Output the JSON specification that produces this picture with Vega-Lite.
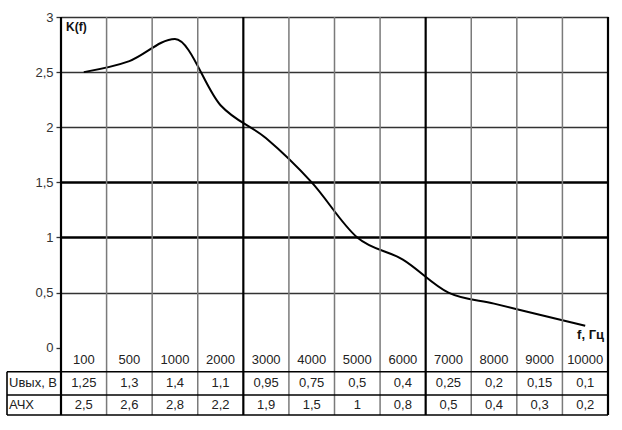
{
  "$schema": "https://vega.github.io/schema/vega-lite/v6.json",
  "padding": {"left": 6, "top": 11, "right": 15, "bottom": 16},
  "spacing": 0,
  "bounds": "flush",
  "config": {
    "view": {"stroke": null},
    "font": "Liberation Sans",
    "locale": {"number": {"decimal": ",", "thousands": " ", "grouping": [3], "currency": ["", ""]}},
    "text": {"font": "Liberation Sans", "fontSize": 13, "color": "#222"}
  },
  "resolve": {"scale": {"x": "independent", "y": "independent"}},
  "datasets": {
    "afc": [
      {"f": 100, "u": 1.25, "k": 2.5},
      {"f": 500, "u": 1.3, "k": 2.6},
      {"f": 1000, "u": 1.4, "k": 2.8},
      {"f": 2000, "u": 1.1, "k": 2.2},
      {"f": 3000, "u": 0.95, "k": 1.9},
      {"f": 4000, "u": 0.75, "k": 1.5},
      {"f": 5000, "u": 0.5, "k": 1},
      {"f": 6000, "u": 0.4, "k": 0.8},
      {"f": 7000, "u": 0.25, "k": 0.5},
      {"f": 8000, "u": 0.2, "k": 0.4},
      {"f": 9000, "u": 0.15, "k": 0.3},
      {"f": 10000, "u": 0.1, "k": 0.2}
    ]
  },
  "hconcat": [
    {
      "width": 54,
      "height": 398,
      "data": {"values": [{}]},
      "layer": [
        {
          "mark": {"type": "text", "text": "Uвых, В", "align": "left", "baseline": "middle"},
          "encoding": {
            "x": {"datum": 2, "type": "quantitative", "scale": {"domain": [0, 54], "nice": false, "zero": false}, "axis": null},
            "y": {
              "datum": -0.32, "type": "quantitative",
              "scale": {"domain": [-0.61, 3], "nice": false, "zero": false},
              "axis": {
                "orient": "left", "offset": -54, "values": [0, 0.5, 1, 1.5, 2, 2.5, 3],
                "format": "~g", "domain": false, "grid": false, "ticks": true, "tickSize": 5,
                "tickColor": "#333", "tickWidth": 1.3, "labelFontSize": 13, "labelColor": "#333",
                "labelPadding": 3, "labelFont": "Liberation Sans", "title": null
              }
            }
          }
        },
        {
          "mark": {"type": "text", "text": "АЧХ", "align": "left", "baseline": "middle"},
          "encoding": {
            "x": {"datum": 2, "type": "quantitative"},
            "y": {"datum": -0.515, "type": "quantitative"}
          }
        },
        {"mark": {"type": "rule", "color": "#000", "strokeWidth": 1.6}, "encoding": {"y": {"datum": -0.218, "type": "quantitative"}}},
        {"mark": {"type": "rule", "color": "#000", "strokeWidth": 1.6}, "encoding": {"y": {"datum": -0.429, "type": "quantitative"}}},
        {"mark": {"type": "rule", "color": "#000", "strokeWidth": 1.6}, "encoding": {"y": {"datum": -0.61, "type": "quantitative"}}},
        {
          "mark": {"type": "rule", "color": "#000", "strokeWidth": 1.6},
          "encoding": {
            "x": {"datum": 0, "type": "quantitative"},
            "y": {"datum": -0.218, "type": "quantitative"},
            "y2": {"datum": -0.61}
          }
        }
      ]
    },
    {
      "width": 547,
      "height": 398,
      "data": {"name": "afc"},
      "layer": [
        {
          "mark": {"type": "line", "color": "#000", "strokeWidth": 2, "interpolate": "monotone"},
          "encoding": {
            "x": {"field": "f", "type": "ordinal", "scale": {"paddingInner": 0, "paddingOuter": 0}, "axis": null},
            "y": {
              "field": "k", "type": "quantitative",
              "scale": {"domain": [-0.61, 3], "nice": false, "zero": false},
              "axis": {
                "values": [0.5, 1, 1.5, 2, 2.5, 3], "labels": false, "ticks": false, "domain": false,
                "title": null, "grid": true, "gridOpacity": 1,
                "gridColor": {"condition": {"test": "datum.value === 1 || datum.value === 1.5", "value": "#000"}, "value": "#333"},
                "gridWidth": {"condition": {"test": "datum.value === 1 || datum.value === 1.5", "value": 2.4}, "value": 1.4}
              }
            }
          }
        },
        {
          "mark": {"type": "rule"},
          "encoding": {
            "x": {"field": "f", "type": "ordinal", "bandPosition": 0},
            "color": {"condition": {"test": "datum.f === 100 || datum.f === 3000 || datum.f === 7000", "value": "#000"}, "value": "#7a7a7a"},
            "strokeWidth": {"condition": {"test": "datum.f === 100 || datum.f === 3000 || datum.f === 7000", "value": 2.2}, "value": 1.5}
          }
        },
        {
          "transform": [{"filter": "datum.f === 10000"}],
          "mark": {"type": "rule", "color": "#000", "strokeWidth": 2.2},
          "encoding": {"x": {"field": "f", "type": "ordinal", "bandPosition": 1}}
        },
        {
          "data": {"values": [{}]},
          "mark": {"type": "rule", "color": "#000", "strokeWidth": 1.6},
          "encoding": {"y": {"datum": -0.218, "type": "quantitative"}}
        },
        {
          "data": {"values": [{}]},
          "mark": {"type": "rule", "color": "#000", "strokeWidth": 1.6},
          "encoding": {"y": {"datum": -0.429, "type": "quantitative"}}
        },
        {
          "data": {"values": [{}]},
          "mark": {"type": "rule", "color": "#000", "strokeWidth": 1.6},
          "encoding": {"y": {"datum": -0.61, "type": "quantitative"}}
        },
        {
          "mark": {"type": "text", "baseline": "middle"},
          "encoding": {
            "x": {"field": "f", "type": "ordinal"},
            "y": {"datum": -0.11, "type": "quantitative"},
            "text": {"field": "f", "type": "nominal"}
          }
        },
        {
          "mark": {"type": "text", "baseline": "middle"},
          "encoding": {
            "x": {"field": "f", "type": "ordinal"},
            "y": {"datum": -0.32, "type": "quantitative"},
            "text": {"field": "u", "type": "quantitative", "format": "~g"}
          }
        },
        {
          "mark": {"type": "text", "baseline": "middle"},
          "encoding": {
            "x": {"field": "f", "type": "ordinal"},
            "y": {"datum": -0.515, "type": "quantitative"},
            "text": {"field": "k", "type": "quantitative", "format": "~g"}
          }
        },
        {
          "transform": [{"filter": "datum.f === 100"}],
          "mark": {"type": "text", "text": "K(f)", "fontWeight": "bold", "fontSize": 12, "align": "left", "baseline": "top", "dx": 5, "dy": 5, "color": "#111"},
          "encoding": {
            "x": {"field": "f", "type": "ordinal", "bandPosition": 0},
            "y": {"datum": 3, "type": "quantitative"}
          }
        },
        {
          "transform": [{"filter": "datum.f === 10000"}],
          "mark": {"type": "text", "text": "f, Гц", "fontWeight": "bold", "fontSize": 13, "align": "right", "baseline": "alphabetic", "dx": -4, "dy": -9, "color": "#111"},
          "encoding": {
            "x": {"field": "f", "type": "ordinal", "bandPosition": 1},
            "y": {"datum": 0, "type": "quantitative"}
          }
        }
      ]
    }
  ]
}
